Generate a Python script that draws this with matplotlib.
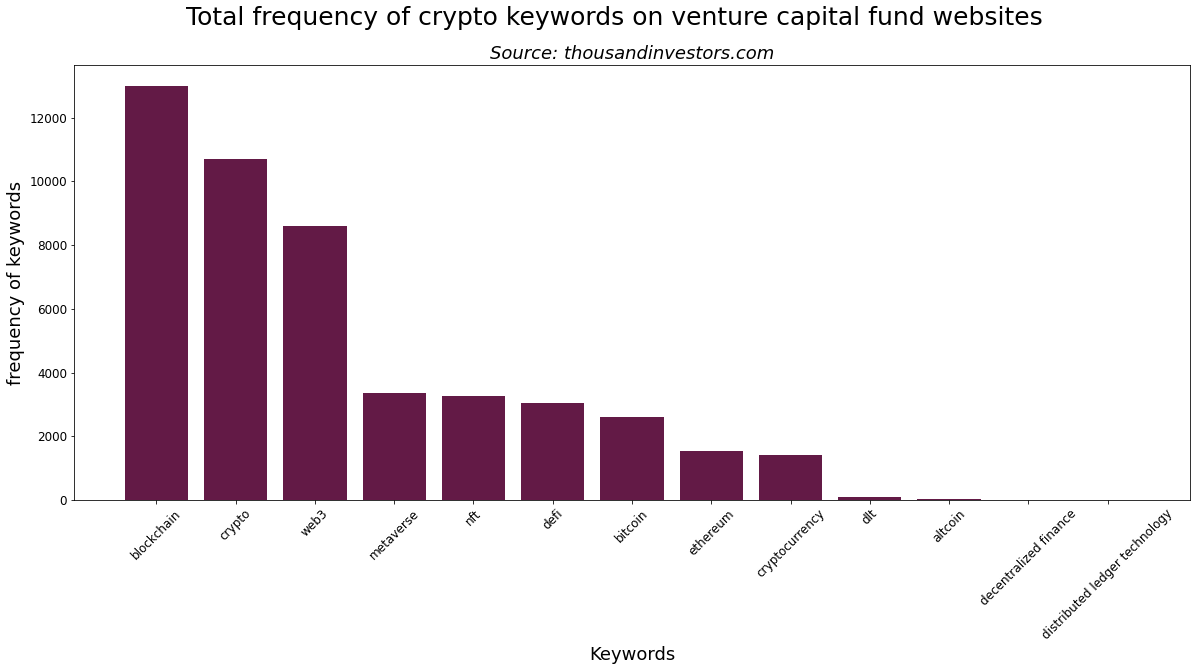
import matplotlib
matplotlib.use("Agg")
import matplotlib.pyplot as plt

keywords = ["blockchain", "crypto", "web3", "metaverse", "nft", "defi", "bitcoin",
            "ethereum", "cryptocurrency", "dlt", "altcoin",
            "decentralized finance", "distributed ledger technology"]
counts = [13000, 10710, 8585, 3350, 3255, 3040, 2600, 1535, 1410, 95, 30, 0, 0]

dpi = 72
fig = plt.figure(figsize=(1197 / dpi, 671 / dpi), dpi=dpi)
ax = fig.add_axes([74 / 1197, 1 - 500 / 671, (1190 - 74) / 1197, (500 - 65) / 671])

ax.bar(keywords, counts, color="#631a46", width=0.8)
ax.set_ylim(0, 13650)

ax.tick_params(axis="both", labelsize=12)
plt.setp(ax.get_xticklabels(), rotation=45)

ax.set_xlabel("Keywords", fontsize=18)
ax.set_ylabel("frequency of keywords", fontsize=18)
ax.set_title("Source: thousandinvestors.com", fontsize=18, style="italic")
fig.text(614 / 1197, 1 - 18 / 671, "Total frequency of crypto keywords on venture capital fund websites",
         fontsize=25, ha="center", va="center")

fig.savefig("out.png", dpi=dpi, facecolor="white")
